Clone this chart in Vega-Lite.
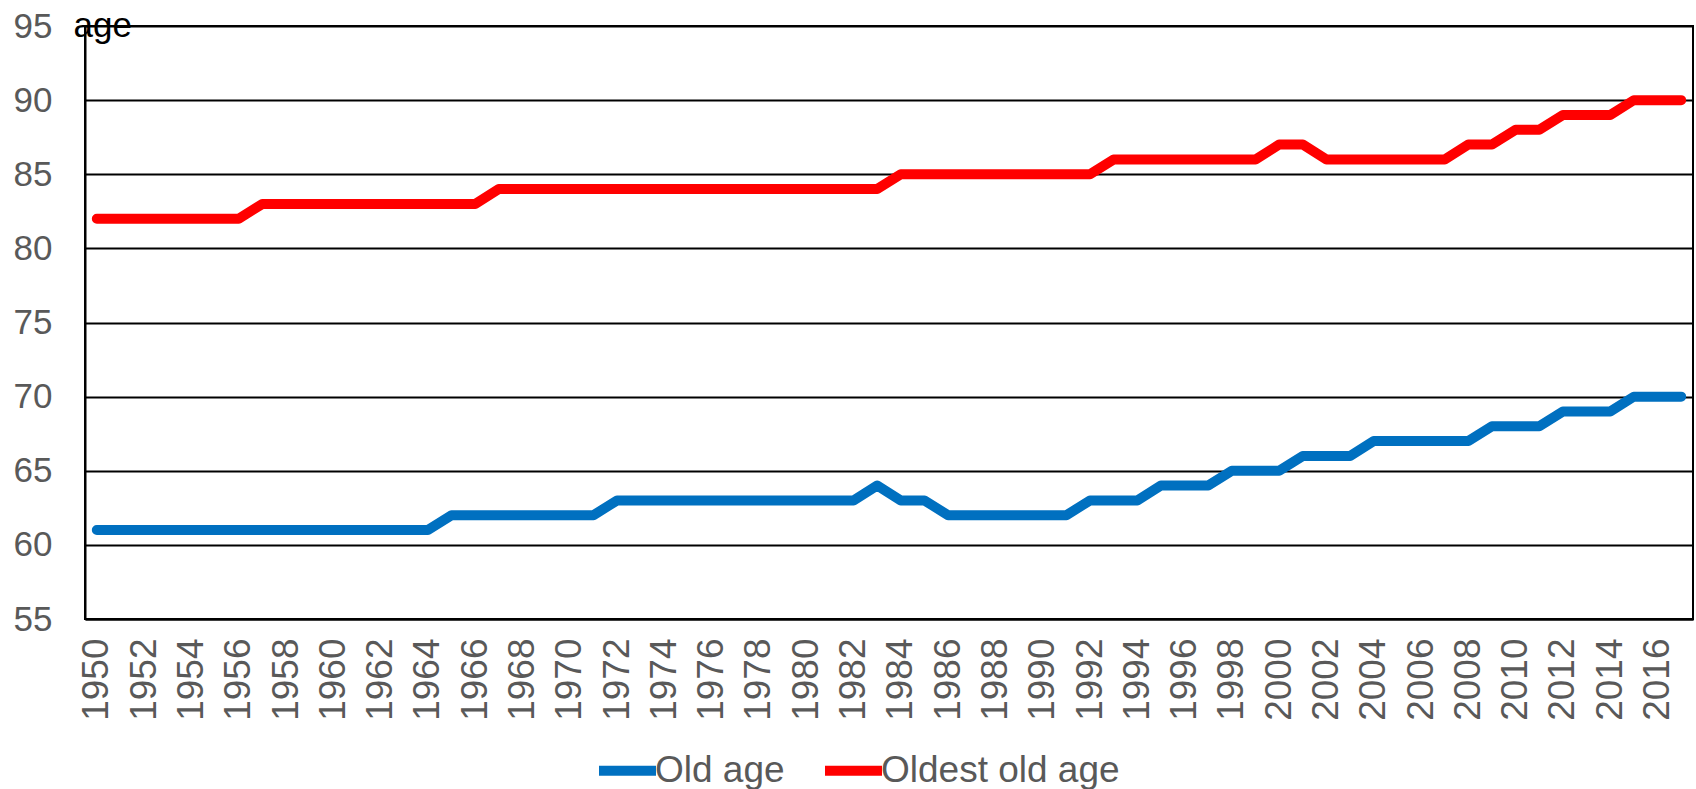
{
  "$schema": "https://vega.github.io/schema/vega-lite/v6.json",
  "autosize": {"type": "none"},
  "width": 1608,
  "height": 593,
  "padding": {"left": 85, "top": 26, "right": 3, "bottom": 170},
  "background": "white",
  "config": {
    "font": "Liberation Sans",
    "view": {"stroke": "black", "strokeWidth": 2},
    "axis": {"labelColor": "#595959", "labelFont": "Liberation Sans", "domainColor": "black", "domainWidth": 2, "ticks": false}
  },
  "data": {"values": [
    {"year": 1950, "Old age": 61, "Oldest old age": 82},
    {"year": 1951, "Old age": 61, "Oldest old age": 82},
    {"year": 1952, "Old age": 61, "Oldest old age": 82},
    {"year": 1953, "Old age": 61, "Oldest old age": 82},
    {"year": 1954, "Old age": 61, "Oldest old age": 82},
    {"year": 1955, "Old age": 61, "Oldest old age": 82},
    {"year": 1956, "Old age": 61, "Oldest old age": 82},
    {"year": 1957, "Old age": 61, "Oldest old age": 83},
    {"year": 1958, "Old age": 61, "Oldest old age": 83},
    {"year": 1959, "Old age": 61, "Oldest old age": 83},
    {"year": 1960, "Old age": 61, "Oldest old age": 83},
    {"year": 1961, "Old age": 61, "Oldest old age": 83},
    {"year": 1962, "Old age": 61, "Oldest old age": 83},
    {"year": 1963, "Old age": 61, "Oldest old age": 83},
    {"year": 1964, "Old age": 61, "Oldest old age": 83},
    {"year": 1965, "Old age": 62, "Oldest old age": 83},
    {"year": 1966, "Old age": 62, "Oldest old age": 83},
    {"year": 1967, "Old age": 62, "Oldest old age": 84},
    {"year": 1968, "Old age": 62, "Oldest old age": 84},
    {"year": 1969, "Old age": 62, "Oldest old age": 84},
    {"year": 1970, "Old age": 62, "Oldest old age": 84},
    {"year": 1971, "Old age": 62, "Oldest old age": 84},
    {"year": 1972, "Old age": 63, "Oldest old age": 84},
    {"year": 1973, "Old age": 63, "Oldest old age": 84},
    {"year": 1974, "Old age": 63, "Oldest old age": 84},
    {"year": 1975, "Old age": 63, "Oldest old age": 84},
    {"year": 1976, "Old age": 63, "Oldest old age": 84},
    {"year": 1977, "Old age": 63, "Oldest old age": 84},
    {"year": 1978, "Old age": 63, "Oldest old age": 84},
    {"year": 1979, "Old age": 63, "Oldest old age": 84},
    {"year": 1980, "Old age": 63, "Oldest old age": 84},
    {"year": 1981, "Old age": 63, "Oldest old age": 84},
    {"year": 1982, "Old age": 63, "Oldest old age": 84},
    {"year": 1983, "Old age": 64, "Oldest old age": 84},
    {"year": 1984, "Old age": 63, "Oldest old age": 85},
    {"year": 1985, "Old age": 63, "Oldest old age": 85},
    {"year": 1986, "Old age": 62, "Oldest old age": 85},
    {"year": 1987, "Old age": 62, "Oldest old age": 85},
    {"year": 1988, "Old age": 62, "Oldest old age": 85},
    {"year": 1989, "Old age": 62, "Oldest old age": 85},
    {"year": 1990, "Old age": 62, "Oldest old age": 85},
    {"year": 1991, "Old age": 62, "Oldest old age": 85},
    {"year": 1992, "Old age": 63, "Oldest old age": 85},
    {"year": 1993, "Old age": 63, "Oldest old age": 86},
    {"year": 1994, "Old age": 63, "Oldest old age": 86},
    {"year": 1995, "Old age": 64, "Oldest old age": 86},
    {"year": 1996, "Old age": 64, "Oldest old age": 86},
    {"year": 1997, "Old age": 64, "Oldest old age": 86},
    {"year": 1998, "Old age": 65, "Oldest old age": 86},
    {"year": 1999, "Old age": 65, "Oldest old age": 86},
    {"year": 2000, "Old age": 65, "Oldest old age": 87},
    {"year": 2001, "Old age": 66, "Oldest old age": 87},
    {"year": 2002, "Old age": 66, "Oldest old age": 86},
    {"year": 2003, "Old age": 66, "Oldest old age": 86},
    {"year": 2004, "Old age": 67, "Oldest old age": 86},
    {"year": 2005, "Old age": 67, "Oldest old age": 86},
    {"year": 2006, "Old age": 67, "Oldest old age": 86},
    {"year": 2007, "Old age": 67, "Oldest old age": 86},
    {"year": 2008, "Old age": 67, "Oldest old age": 87},
    {"year": 2009, "Old age": 68, "Oldest old age": 87},
    {"year": 2010, "Old age": 68, "Oldest old age": 88},
    {"year": 2011, "Old age": 68, "Oldest old age": 88},
    {"year": 2012, "Old age": 69, "Oldest old age": 89},
    {"year": 2013, "Old age": 69, "Oldest old age": 89},
    {"year": 2014, "Old age": 69, "Oldest old age": 89},
    {"year": 2015, "Old age": 70, "Oldest old age": 90},
    {"year": 2016, "Old age": 70, "Oldest old age": 90},
    {"year": 2017, "Old age": 70, "Oldest old age": 90}
  ]},
  "transform": [{"fold": ["Old age", "Oldest old age"], "as": ["series", "value"]}],
  "mark": {"type": "line", "strokeWidth": 10, "strokeCap": "round", "strokeJoin": "round"},
  "encoding": {
    "x": {
      "field": "year", "type": "ordinal",
      "scale": {"type": "point", "padding": 0.5},
      "axis": {
        "title": null, "grid": false,
        "values": [1950,1952,1954,1956,1958,1960,1962,1964,1966,1968,1970,1972,1974,1976,1978,1980,1982,1984,1986,1988,1990,1992,1994,1996,1998,2000,2002,2004,2006,2008,2010,2012,2014,2016],
        "labelAngle": -90, "labelFontSize": 37, "labelPadding": 19
      }
    },
    "y": {
      "field": "value", "type": "quantitative",
      "scale": {"domain": [55, 95], "nice": false, "zero": false},
      "axis": {
        "values": [55, 60, 65, 70, 75, 80, 85, 90, 95],
        "grid": true, "gridColor": "black", "gridWidth": 2, "gridOpacity": 1,
        "labelFontSize": 35, "labelPadding": 33,
        "title": "age", "titleAngle": 0, "titleAlign": "left", "titleBaseline": "alphabetic",
        "titleX": -12, "titleY": 10, "titleFontSize": 35, "titleFontWeight": "normal", "titleColor": "black", "titleFont": "Liberation Sans"
      }
    },
    "color": {
      "field": "series", "type": "nominal",
      "scale": {"domain": ["Old age", "Oldest old age"], "range": ["#0070C0", "#FF0000"]},
      "legend": {
        "title": null, "orient": "none", "direction": "horizontal",
        "legendX": 509, "legendY": 711,
        "symbolType": "stroke", "symbolStrokeWidth": 10, "symbolSize": 3249,
        "labelFontSize": 37, "labelColor": "#595959", "labelFont": "Liberation Sans", "labelLimit": 0,
        "labelOffset": -6, "columnPadding": 20
      }
    }
  }
}
